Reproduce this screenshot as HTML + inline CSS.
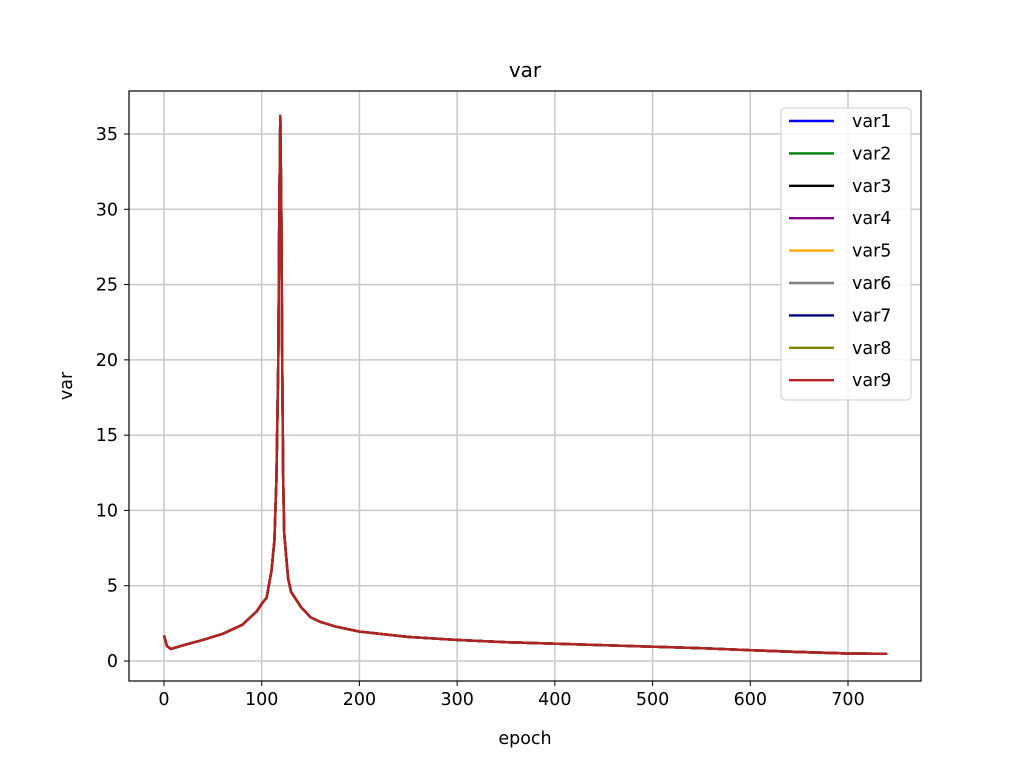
<!DOCTYPE html>
<html><head><meta charset="utf-8"><style>
body{margin:0;background:#fff;}
text{font-family:"DejaVu Sans","Liberation Sans",sans-serif;fill:#000;}
</style></head><body>
<svg width="1024" height="766" id="svg">
<rect width="1024" height="766" fill="#fff"/>
<g id="grid"></g>
<g id="ticks"></g>
<g id="lines"></g>
<rect x="129" y="91" width="792" height="590" fill="none" stroke="#000" stroke-width="1.2"/>
<text x="525" y="77" font-size="20" text-anchor="middle">var</text>
<text x="525" y="744" font-size="17.5" text-anchor="middle">epoch</text>
<text x="72" y="386" font-size="17.5" text-anchor="middle" transform="rotate(-90 72 386)">var</text>
<g id="legend"></g>
</svg>
<script>
const xTicks=[0,100,200,300,400,500,600,700];
const yTicks=[0,5,10,15,20,25,30,35];
const epochs=[0,3,7,20,40,60,80,95,100,105,110,113,115,117,118,119,120,121,122,123,125,127,130,140,150,160,175,200,250,300,350,400,450,500,550,600,650,700,740];
const values=[1.7,1.0,0.8,1.05,1.4,1.8,2.4,3.3,3.8,4.2,6.0,8,12,20,30,36.2,30,20,12,8.5,7,5.5,4.6,3.6,2.9,2.6,2.3,1.95,1.6,1.4,1.25,1.15,1.05,0.95,0.85,0.72,0.6,0.5,0.48];
const seriesNames=["var1","var2","var3","var4","var5","var6","var7","var8","var9"];
const seriesColors=["blue","green","black","purple","orange","gray","navy","olive","#b22222"];
const X=v=>164+v*(684/700), Y=v=>661-v*(527/35);
const NS="http://www.w3.org/2000/svg";
function mk(t,a,p){const e=document.createElementNS(NS,t);for(const k in a)e.setAttribute(k,a[k]);p.appendChild(e);return e;}
const grid=document.getElementById('grid'),ticks=document.getElementById('ticks');
xTicks.forEach(t=>{const x=X(t);
 const g=mk('line',{x1:x,x2:x,y1:91,y2:681,stroke:'#c8c8c8','stroke-width':1.5},grid);
 
 
 mk('line',{x1:x,x2:x,y1:681,y2:686,stroke:'#000'},ticks);
 const l=mk('text',{x:x,y:705,'font-size':17.5,'text-anchor':'middle'},ticks);l.textContent=t;
 
 });
yTicks.forEach(t=>{const y=Y(t);
 const g=mk('line',{x1:129,x2:921,y1:y,y2:y,stroke:'#c8c8c8','stroke-width':1.5},grid);
 
 
 mk('line',{x1:124,x2:129,y1:y,y2:y,stroke:'#000'},ticks);
 const l=mk('text',{x:118,y:y+6,'font-size':17.5,'text-anchor':'end'},ticks);l.textContent=t;
 
 });
const lines=document.getElementById('lines');
const d=epochs.map((e,i)=>(i?'L':'M')+X(e).toFixed(1)+','+Y(values[i]).toFixed(1)).join('');
seriesNames.forEach((n,i)=>{const p=mk('path',{d:d,fill:'none',stroke:seriesColors[i],'stroke-width':2.4,'stroke-linejoin':'round'},lines);
 
 });
const lg=document.getElementById('legend');
const box=mk('rect',{x:781,y:108,width:130,height:292,rx:4,fill:'#fff','fill-opacity':0.85,stroke:'#ccc'},lg);


seriesNames.forEach((n,i)=>{const y=121+i*32.4;
 const g=mk('g',{},lg);
 
 
 mk('line',{x1:789,x2:834,y1:y,y2:y,stroke:seriesColors[i],'stroke-width':2.4},g);
 const t=mk('text',{x:852,y:y+6,'font-size':17.5},g);t.textContent=n;});
</script>
</body></html>
